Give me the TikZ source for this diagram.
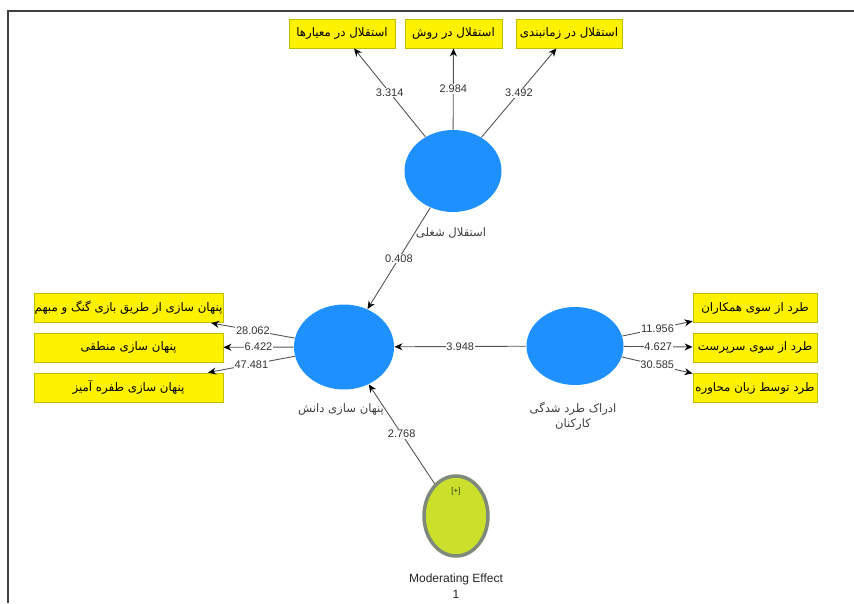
\documentclass[tikz,border=0pt]{standalone}
\usepackage{fontspec}
\setmainfont{Liberation Sans}
\newfontfamily\farsi[Script=Arabic]{DejaVu Sans}
\TeXXeTstate=1
\usepackage{tikz}
\usetikzlibrary{shapes}
\usetikzlibrary{arrows.meta}
\definecolor{latentblue}{RGB}{30,144,255}
\definecolor{boxedge}{RGB}{190,190,0}
\definecolor{modfill}{RGB}{202,224,42}
\definecolor{modedge}{RGB}{128,138,122}
\definecolor{linegray}{RGB}{85,85,85}
\tikzset{
	main node/.style={ellipse,fill=latentblue,minimum width=97pt,minimum height=82pt,inner sep=0pt},
	indicator/.style={rectangle,draw=boxedge,fill=yellow,inner sep=0pt,minimum height=29pt,font=\farsi\fontsize{11.8}{13}\selectfont},
	weight/.style={fill=white,inner sep=0.8pt,text=black!80,font=\fontsize{11}{12}\selectfont},
	latent label/.style={text=black!75,align=center,font=\farsi\fontsize{11.6}{15}\selectfont}
}

\begin{document}
\begin{tikzpicture}[->,>={Stealth[length=8pt,width=7pt,black]},x=1pt,y=-1pt,draw=linegray,line width=0.9pt]
	\useasboundingbox (0,0) rectangle (854,603);
	\draw[-,black!75,line width=2pt] (854,11) -- (8,11) -- (8,603);
	% latent variables
	\node [main node] (1) at (453,171) {};
	\node [main node,minimum width=100pt,minimum height=85pt] (2) at (344,347) {};
	\node [main node,minimum height=78pt] (3) at (575,346) {};
	\node [ellipse,draw=modedge,line width=3.5pt,fill=modfill,minimum width=64pt,minimum height=80pt] (4) at (456,516) {};
	\node [latent label] (1l) at (451,233) {\beginR استقلال شغلی\endR};
	\node [latent label] (2l) at (341,410) {\beginR پنهان سازی دانش\endR};
	\node [latent label] (3l) at (573,416) {\beginR ادراک طرد شدگی\endR\\\beginR کارکنان\endR};
	\node [text=black!80,font=\fontsize{8}{9}\selectfont] (4p) at (456,491) {[+]};
	\node [text=black!85,align=center,font=\fontsize{12}{16}\selectfont] (4l) at (456,586) {Moderating Effect\\1};
	% indicators
	\node [indicator,minimum width=106pt] (5) at (342,33.5) {\beginR استقلال در معیارها\endR};
	\node [indicator,minimum width=97pt] (6) at (453.5,33.5) {\beginR استقلال در روش\endR};
	\node [indicator,minimum width=106pt] (7) at (569,33.5) {\beginR استقلال در زمانبندی\endR};
	\node [indicator,minimum width=189pt] (8) at (128.5,308) {\beginR پنهان سازی از طریق بازی گنگ و مبهم\endR};
	\node [indicator,minimum width=189pt] (9) at (128.5,347.5) {\beginR پنهان سازی منطقی\endR};
	\node [indicator,minimum width=189pt] (10) at (128.5,387.5) {\beginR پنهان سازی طفره آمیز\endR};
	\node [indicator,minimum width=124pt] (11) at (755,308) {\beginR طرد از سوی همکاران\endR};
	\node [indicator,minimum width=124pt] (12) at (755,347.5) {\beginR طرد از سوی سرپرست\endR};
	\node [indicator,minimum width=124pt] (13) at (755,388) {\beginR طرد توسط زبان محاوره\endR};
	% paths
	\draw (1) -- node[weight] {3.314} (5);
	\draw (1) -- node[weight] {2.984} (6);
	\draw (1) -- node[weight] {3.492} (7);
	\draw (2) -- node[weight] {28.062} (8);
	\draw (2) -- node[weight] {6.422} (9);
	\draw (2) -- node[weight] {47.481} (10);
	\draw (3) -- node[weight] {11.956} (11);
	\draw (3) -- node[weight] {4.627} (12);
	\draw (3) -- node[weight] {30.585} (13);
	\draw (1) -- node[weight] {0.408} (2);
	\draw (3) -- node[weight] {3.948} (2);
	\draw (4) -- node[weight] {2.768} (2);
\end{tikzpicture}
\end{document}
